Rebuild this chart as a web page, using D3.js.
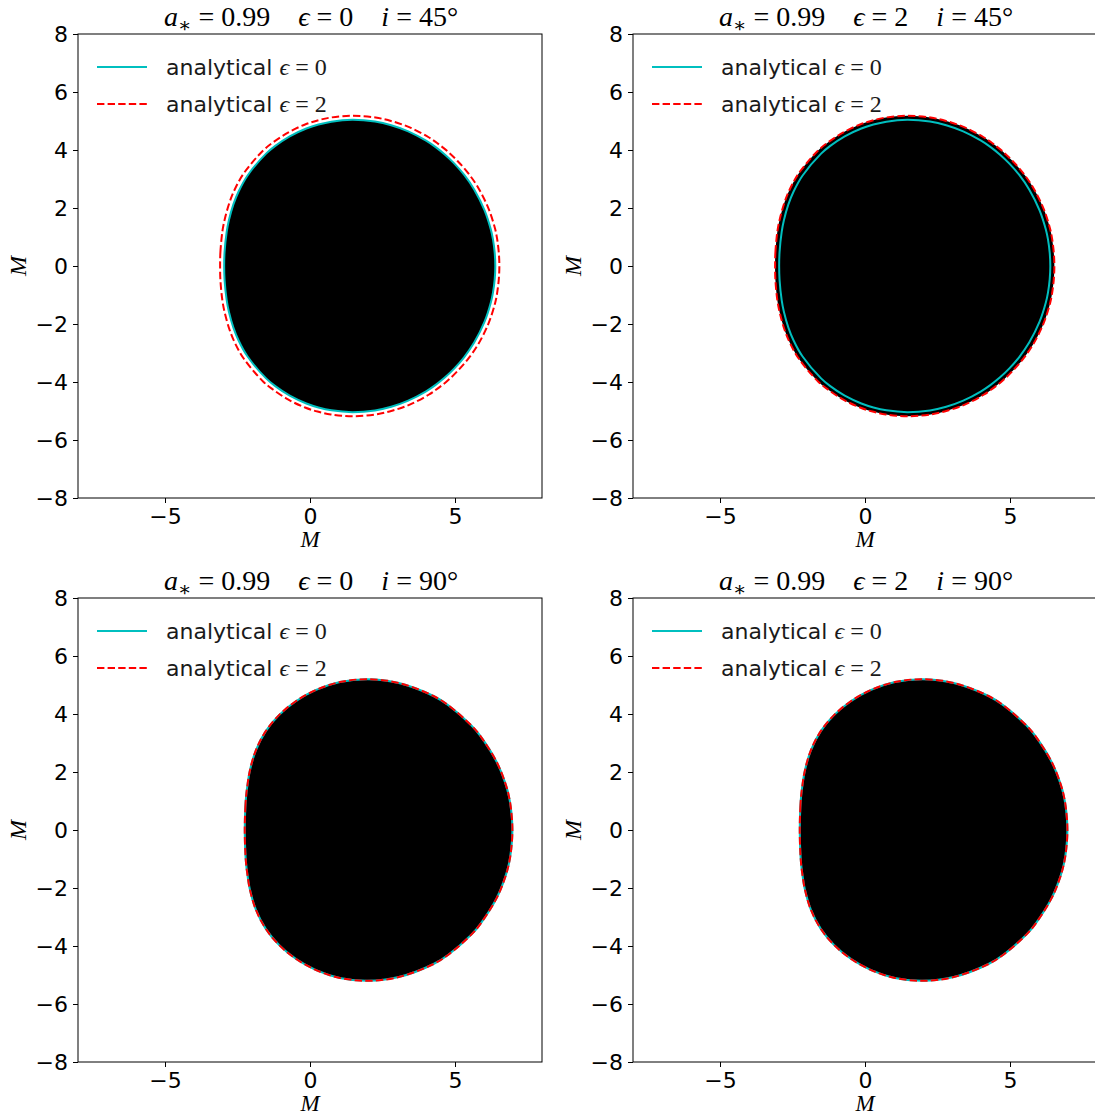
<!DOCTYPE html>
<html><head><meta charset="utf-8">
<script src="https://cdn.jsdelivr.net/npm/d3@7"></script>
<style>body{margin:0;background:#fff} svg{display:block}</style></head>
<body><svg id="c" width="1095" height="1115"></svg>
<script>
// ---- data ----
const spin = "0.99";
const epsilons = [0, 2];
const inclinations = [45, 90];
const tickX = [-5, 0, 5];
const tickY = [-8, -6, -4, -2, 0, 2, 4, 6, 8];
const legendLabels = ["analytical", "analytical"];
// upper half of each shadow contour (x, y in M), mirrored about y = 0
const shadowI45Eps0 = [[-2.96,0],[-2.947,0.468],[-2.873,1.176],[-2.799,1.568],[-2.642,2.124],[-2.466,2.56],[-2.158,3.114],[-1.514,3.875],[-1.209,4.134],[-0.699,4.472],[-0.126,4.741],[0.291,4.878],[0.736,4.977],[1.457,5.04],[2.242,4.98],[2.8,4.855],[3.387,4.644],[4.003,4.322],[4.321,4.108],[4.647,3.848],[4.979,3.532],[5.319,3.139],[5.666,2.632],[6.02,1.921],[6.236,1.258],[6.308,0.925],[6.37,0.45],[6.39,0]];
const shadowI45Eps2 = [[-3.1,0],[-3.09,0.47],[-3.02,1.2],[-2.94,1.61],[-2.78,2.18],[-2.6,2.63],[-2.28,3.2],[-1.61,3.99],[-1.29,4.25],[-0.76,4.6],[-0.17,4.88],[0.26,5.02],[0.72,5.12],[1.46,5.18],[2.26,5.12],[2.83,4.99],[3.44,4.78],[4.09,4.44],[4.41,4.22],[4.75,3.95],[5.08,3.63],[5.44,3.22],[5.8,2.7],[6.16,1.97],[6.38,1.29],[6.45,0.95],[6.51,0.46],[6.53,0]];
const shadowI90Eps0 = [[-2.25,0],[-2.23,0.78],[-2.2,1.2],[-2.17,1.45],[-2.08,2.02],[-1.87,2.74],[-1.53,3.4],[-1.07,3.96],[-0.49,4.44],[0.21,4.83],[1.03,5.1],[1.98,5.2],[3.06,5.07],[4.26,4.62],[4.77,4.3],[5.58,3.59],[5.86,3.26],[6.44,2.34],[6.74,1.6],[6.86,1.16],[6.94,0.65],[6.98,0]];
const shadowI90Eps2 = [[-2.25,0],[-2.23,0.78],[-2.2,1.2],[-2.17,1.45],[-2.08,2.02],[-1.87,2.74],[-1.53,3.4],[-1.07,3.96],[-0.49,4.44],[0.21,4.83],[1.03,5.1],[1.98,5.2],[3.06,5.07],[4.26,4.62],[4.77,4.3],[5.58,3.59],[5.86,3.26],[6.44,2.34],[6.74,1.6],[6.86,1.16],[6.94,0.65],[6.98,0]];

// ---- panels ----
const panels = [
  {col:0,row:0, eps:epsilons[0], inc:inclinations[0], fill:shadowI45Eps0, c0:shadowI45Eps0, c2:shadowI45Eps2},
  {col:1,row:0, eps:epsilons[1], inc:inclinations[0], fill:shadowI45Eps2, c0:shadowI45Eps0, c2:shadowI45Eps2},
  {col:0,row:1, eps:epsilons[0], inc:inclinations[1], fill:shadowI90Eps0, c0:shadowI90Eps0, c2:shadowI90Eps2},
  {col:1,row:1, eps:epsilons[1], inc:inclinations[1], fill:shadowI90Eps2, c0:shadowI90Eps0, c2:shadowI90Eps2}
];

const svg = d3.select("#c");
const W = 464, H = 464;
const lefts = [78, 633], tops = [34, 598];
const sansFont = '"DejaVu Sans", sans-serif';
const serifFont = '"Liberation Serif","DejaVu Serif", serif';
const CYAN = "#00bfbf", RED = "#ff0000";

function loop(upper) {
  const lower = upper.slice(1, -1).reverse().map(([x, y]) => [x, -y]);
  return upper.concat(lower);
}

panels.forEach((p, k) => {
  const g = svg.append("g").attr("transform", `translate(${lefts[p.col]},${tops[p.row]})`);
  const x = d3.scaleLinear().domain([-8, 8]).range([0, W]);
  const y = d3.scaleLinear().domain([-8, 8]).range([H, 0]);
  const line = d3.line().x(d => x(d[0])).y(d => y(d[1])).curve(d3.curveCatmullRomClosed.alpha(0.5));

  const cid = "clip" + k;
  g.append("clipPath").attr("id", cid).append("rect").attr("width", W).attr("height", H);
  const plot = g.append("g").attr("clip-path", `url(#${cid})`);
  plot.append("path").attr("d", line(loop(p.fill))).attr("fill", "#000");
  plot.append("path").attr("d", line(loop(p.c0))).attr("fill", "none").attr("stroke", CYAN).attr("stroke-width", 2);
  plot.append("path").attr("d", line(loop(p.c2))).attr("fill", "none").attr("stroke", RED).attr("stroke-width", 2).attr("stroke-dasharray", "7.4,3.2");

  // axes
  const ax = g.append("g").attr("transform", `translate(0,${H})`)
    .call(d3.axisBottom(x).tickValues(tickX).tickSize(5).tickPadding(4).tickSizeOuter(0));
  const ay = g.append("g")
    .call(d3.axisLeft(y).tickValues(tickY).tickSize(5).tickPadding(5).tickSizeOuter(0));
  [ax, ay].forEach(a => {
    a.select(".domain").remove();
    a.selectAll("line").attr("stroke", "#000").attr("stroke-width", 1);
    a.selectAll("text").style("font-family", sansFont).style("font-size", "22px").attr("fill", "#000");
  });
  ax.selectAll("text").attr("dy", "0.76em");
  ay.selectAll("text").attr("dy", "0.36em");

  g.append("rect").attr("width", W).attr("height", H).attr("fill", "none").attr("stroke", "#000").attr("stroke-width", 1);

  // axis labels
  g.append("text").attr("x", W / 2).attr("y", H + 49).attr("text-anchor", "middle")
    .style("font-family", serifFont).style("font-style", "italic").style("font-size", "23px").text("M");
  g.append("text").attr("transform", `translate(-52,${H / 2}) rotate(-90)`).attr("text-anchor", "middle")
    .style("font-family", serifFont).style("font-style", "italic").style("font-size", "24px").text("M");

  // title
  const t = g.append("text").attr("x", W / 2 + 1).attr("y", -8).attr("text-anchor", "middle")
    .style("font-family", serifFont).style("font-size", "28px").attr("fill", "#000");
  t.append("tspan").style("font-style", "italic").text("a");
  t.append("tspan").attr("dy", 6).style("font-size", "20px").text("\u2217");
  t.append("tspan").attr("dy", -6).text(" = " + spin + "\u2003");
  t.append("tspan").style("font-style", "italic").text("\u03f5");
  t.append("tspan").text(" = " + p.eps + "\u2003");
  t.append("tspan").style("font-style", "italic").text("i");
  t.append("tspan").text(" = " + p.inc + "\u00b0");

  // legend
  const leg = g.append("g");
  [[CYAN, null, epsilons[0]], [RED, "7.4,3.2", epsilons[1]]].forEach((d, i) => {
    const yy = 33 + i * 37;
    leg.append("line").attr("x1", 19).attr("x2", 69).attr("y1", yy).attr("y2", yy)
      .attr("stroke", d[0]).attr("stroke-width", 2).attr("stroke-dasharray", d[1]);
    const tx = leg.append("text").attr("x", 88).attr("y", yy + 8).attr("fill", "#1a1a1a")
      .style("font-family", sansFont).style("font-size", "22px");
    tx.append("tspan").text(legendLabels[i] + " ");
    tx.append("tspan").style("font-family", serifFont).style("font-style", "italic").style("font-size", "24px").text("\u03f5");
    tx.append("tspan").style("font-family", serifFont).style("font-size", "24px").text(" = " + d[2]);
  });
});
</script></body></html>
